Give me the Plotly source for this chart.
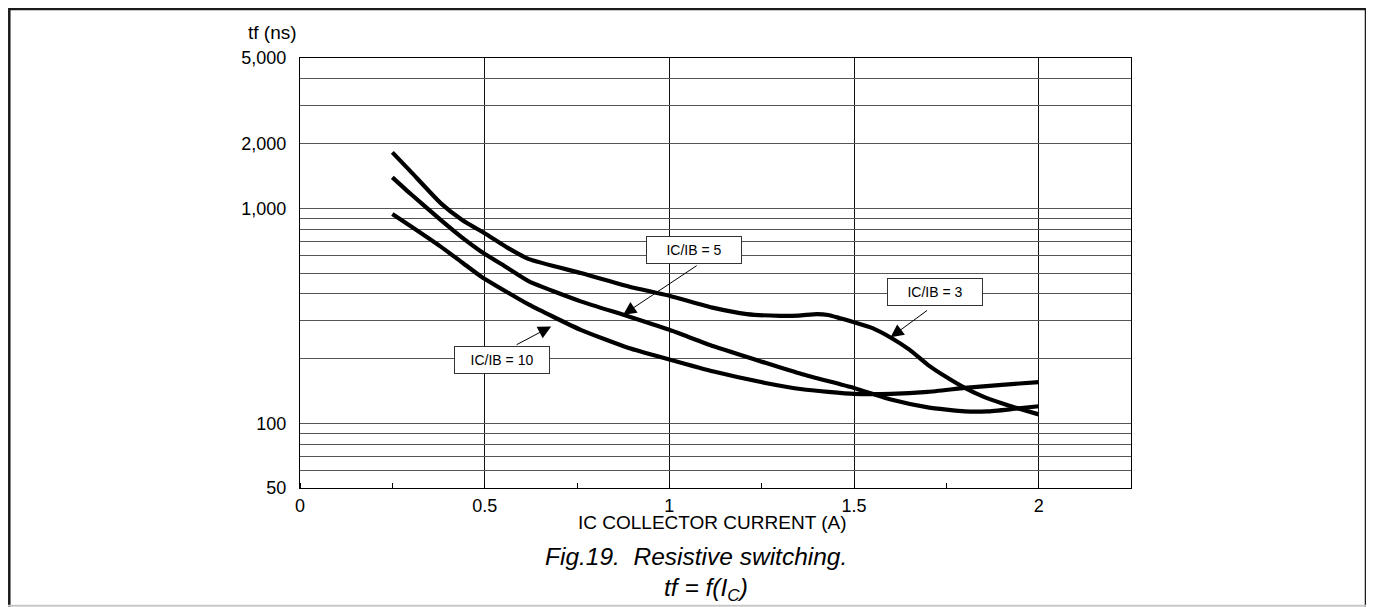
import math
import plotly.graph_objects as go

# ---- data ----
x_ib3 = [0.25, 0.30, 0.38, 0.44, 0.50, 0.56, 0.62, 0.76, 0.89, 1.00, 1.12, 1.21, 1.30, 1.35, 1.40, 1.43, 1.46, 1.50, 1.55, 1.60, 1.65, 1.70, 1.75, 1.80, 1.85, 1.90, 1.95, 2.00]
y_ib3 = [1820, 1480, 1060, 880, 765, 658, 580, 500, 433, 392, 344, 322, 316, 317, 322, 319, 309, 295, 277, 250, 220, 187, 164, 146, 133, 124, 116.5, 110]

x_ib5 = [0.25, 0.30, 0.38, 0.44, 0.49, 0.56, 0.62, 0.76, 0.89, 1.00, 1.12, 1.26, 1.36, 1.50, 1.60, 1.70, 1.80, 1.86, 1.93, 2.00]
y_ib5 = [1393, 1165, 885, 728, 630, 530, 457, 369, 314, 272, 228, 191, 169, 146, 129, 118.6, 113.6, 113.5, 116.5, 120]

x_ib10 = [0.25, 0.30, 0.38, 0.44, 0.49, 0.56, 0.62, 0.76, 0.89, 1.00, 1.12, 1.26, 1.36, 1.50, 1.60, 1.70, 1.80, 1.90, 2.00]
y_ib10 = [940, 825, 665, 558, 482, 408, 356, 272, 224, 198, 174, 154, 144, 137, 137, 140, 146, 151, 155.5]

x_tick_vals = [0, 0.5, 1, 1.5, 2]
x_tick_text = ["0", "0.5", "1", "1.5", "2"]
y_grid_vals = [50, 60, 70, 80, 90, 100, 200, 300, 400, 500, 600, 700, 800, 900,
               1000, 2000, 3000, 4000, 5000]
y_labels = {50: "50", 100: "100", 1000: "1,000", 2000: "2,000", 5000: "5,000"}

# labels: (text, box centre x, box centre y, arrow head x, arrow head y, arrow tail offset px)
labels = [
    ("IC/IB = 5", 1.066, 638, 0.875, 320, 75, -50),
    ("IC/IB = 3", 1.718, 409, 1.599, 251, 38, -28),
    ("IC/IB = 10", 0.546, 196, 0.680, 282, -36, 19),
]

FONT = "Liberation Sans, Arial, Helvetica, sans-serif"

# plot area sits at screen px x 300..1131, y 58.3..488.3 (page has an 8px body margin)
PW, PH = 831.0, 430.0
def px_x(sx):
    return (sx - 300) / PW
def px_y(sy):
    return (488.3 - sy) / PH

fig = go.Figure()
for xs, ys in [(x_ib3, y_ib3), (x_ib5, y_ib5), (x_ib10, y_ib10)]:
    fig.add_trace(go.Scatter(
        x=xs, y=ys, mode="lines",
        line=dict(color="black", width=4.2, shape="spline", smoothing=0.5),
        showlegend=False, hoverinfo="skip"))

annotations = []
for text, bx, by, hx, hy, ax, ay in labels:
    annotations.append(dict(
        x=hx, y=math.log10(hy), xref="x", yref="y", text="",
        showarrow=True, arrowhead=2, arrowsize=2.6, arrowwidth=1,
        arrowcolor="black", ax=ax, ay=ay, standoff=0))
    annotations.append(dict(
        x=bx, y=math.log10(by), xref="x", yref="y", text=text,
        showarrow=False, font=dict(family=FONT, size=14, color="black"),
        bgcolor="white", bordercolor="#333", borderwidth=1, borderpad=0,
        width=94, height=26, align="center", valign="middle"))

annotations += [
    dict(x=px_x(299), y=px_y(33), xref="paper", yref="paper", xanchor="right", yanchor="middle",
         text="tf (ns)", showarrow=False, font=dict(family=FONT, size=19, color="black")),
    dict(x=px_x(712), y=px_y(523), xref="paper", yref="paper", xanchor="center", yanchor="middle",
         text="IC COLLECTOR CURRENT (A)", showarrow=False,
         font=dict(family=FONT, size=19, color="black")),
    dict(x=px_x(696), y=px_y(556.5), xref="paper", yref="paper", xanchor="center", yanchor="middle",
         text="<i>Fig.19.\u00a0\u00a0Resistive switching.</i>", showarrow=False,
         font=dict(family=FONT, size=24.5, color="black")),
    dict(x=px_x(706), y=px_y(590), xref="paper", yref="paper", xanchor="center", yanchor="middle",
         text="<i>tf = f(I<sub>C</sub>)</i>", showarrow=False,
         font=dict(family=FONT, size=24.5, color="black")),
]

shapes = [
    dict(type="rect", xref="paper", yref="paper",
         x0=px_x(9.3), x1=px_x(1366), y0=px_y(650), y1=px_y(9.3),
         line=dict(color="#1a1a1a", width=2.5)),
    dict(type="line", xref="paper", yref="paper",
         x0=px_x(0), x1=px_x(1374), y0=px_y(606), y1=px_y(606),
         line=dict(color="#c8c8c8", width=2)),
]

fig.update_layout(
    width=1360, height=599,
    margin=dict(l=292, r=237, t=50, b=119, pad=0),
    paper_bgcolor="white", plot_bgcolor="white",
    font=dict(family=FONT, size=18, color="black"),
    annotations=annotations, shapes=shapes,
    xaxis=dict(
        range=[0, 2.25], tickvals=x_tick_vals, ticktext=x_tick_text,
        showgrid=True, gridcolor="#111", gridwidth=1, zeroline=False,
        showline=True, linecolor="black", linewidth=1.2, mirror=True,
        ticks="", ticklabelstandoff=1,
        tickfont=dict(family=FONT, size=18, color="black"),
        minor=dict(dtick=0.25, tick0=0, ticks="inside", ticklen=5,
                   tickcolor="black", tickwidth=1, showgrid=False),
    ),
    yaxis=dict(
        type="log", range=[math.log10(50), math.log10(5000)],
        tickvals=y_grid_vals,
        ticktext=[y_labels.get(v, "") for v in y_grid_vals],
        showgrid=True, gridcolor="#555", gridwidth=1, zeroline=False,
        showline=True, linecolor="black", linewidth=1.2, mirror=True,
        ticks="", ticklabelstandoff=9,
        tickfont=dict(family=FONT, size=18, color="black"),
    ),
)

fig.write_html("out.html")
